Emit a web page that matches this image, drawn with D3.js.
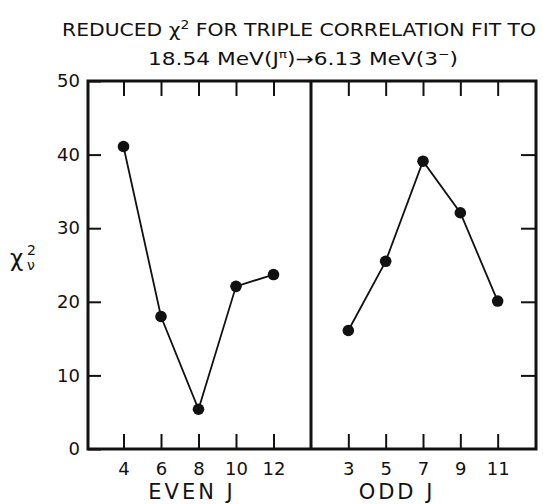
<!DOCTYPE html>
<html>
<head>
<meta charset="utf-8">
<script src="https://cdn.jsdelivr.net/npm/d3@7"></script>
<style>
  html, body { margin: 0; padding: 0; background: #fff; }
  svg { display: block; }
  text { font-family: "DejaVu Sans", sans-serif; fill: #111; }
</style>
</head>
<body>
<svg id="chart" width="543" height="504"></svg>
<script>
// Reduced chi-square vs. assumed spin J, split into even and odd J panels
const evenJ = [4, 6, 8, 10, 12];
const evenChi2 = [41.1, 18.0, 5.4, 22.1, 23.7];
const oddJ = [3, 5, 7, 9, 11];
const oddChi2 = [16.1, 25.5, 39.1, 32.1, 20.1];
const yTicks = [0, 10, 20, 30, 40, 50];
const panelLabels = ["EVEN J", "ODD J"];

const svg = d3.select("#chart");
const frameL = 88, frameR = 536, frameMid = 311, frameT = 81, frameB = 449;

const y = d3.scaleLinear().domain([0, 50]).range([frameB, frameT]);
const xEven = d3.scaleLinear().domain([2, 14]).range([86, frameMid]);
const xOdd = d3.scaleLinear().domain([1, 13]).range([frameMid, 535]);

// Title
svg.append("text")
  .attr("x", 299).attr("y", 36)
  .attr("text-anchor", "middle")
  .attr("font-size", 17.5)
  .attr("textLength", 474).attr("lengthAdjust", "spacingAndGlyphs")
  .html('REDUCED χ<tspan dy="-7" font-size="12">2</tspan><tspan dy="7"> FOR TRIPLE CORRELATION FIT TO</tspan>');

svg.append("text")
  .attr("x", 303).attr("y", 65)
  .attr("text-anchor", "middle")
  .attr("font-size", 17.5)
  .attr("textLength", 310).attr("lengthAdjust", "spacingAndGlyphs")
  .html('18.54 MeV(J<tspan dy="-7" font-size="11">π</tspan><tspan dy="7">)→6.13 MeV(3</tspan><tspan dy="-7" font-size="11">−</tspan><tspan dy="7">)</tspan>');

// Axes: ticks point inward, domain lines replaced by the frame
function styleAxis(g) {
  g.select(".domain").remove();
  g.selectAll(".tick line").attr("stroke", "#111").attr("stroke-width", 2);
  g.selectAll(".tick text").attr("font-size", 18).attr("fill", "#111")
    .attr("font-family", '"DejaVu Sans", sans-serif');
}

svg.append("g").attr("transform", `translate(0,${frameB})`)
  .call(d3.axisBottom(xEven).tickValues(evenJ).tickSize(-15).tickPadding(13))
  .call(styleAxis);
svg.append("g").attr("transform", `translate(0,${frameB})`)
  .call(d3.axisBottom(xOdd).tickValues(oddJ).tickSize(-15).tickPadding(13))
  .call(styleAxis);
svg.append("g").attr("transform", `translate(0,${frameT})`)
  .call(d3.axisTop(xEven).tickValues(evenJ).tickSize(-15).tickFormat(""))
  .call(styleAxis);
svg.append("g").attr("transform", `translate(0,${frameT})`)
  .call(d3.axisTop(xOdd).tickValues(oddJ).tickSize(-15).tickFormat(""))
  .call(styleAxis);
svg.append("g").attr("transform", `translate(${frameL},0)`)
  .call(d3.axisLeft(y).tickValues(yTicks).tickSize(-13).tickPadding(8))
  .call(styleAxis);
svg.append("g").attr("transform", `translate(${frameR},0)`)
  .call(d3.axisRight(y).tickValues(yTicks.slice(1, -1)).tickSize(-15).tickFormat(""))
  .call(styleAxis);

// Frame and panel divider
svg.append("rect")
  .attr("x", frameL).attr("y", frameT)
  .attr("width", frameR - frameL).attr("height", frameB - frameT)
  .attr("fill", "none").attr("stroke", "#111").attr("stroke-width", 3);
svg.append("line")
  .attr("x1", frameMid).attr("x2", frameMid).attr("y1", frameT).attr("y2", frameB)
  .attr("stroke", "#111").attr("stroke-width", 3);

// Y-axis label: chi-square with superscript 2 and subscript nu
const yl = svg.append("g").attr("transform", "translate(10,266)");
yl.append("text").attr("font-size", 23).text("χ");
yl.append("text").attr("x", 17).attr("y", -11).attr("font-size", 14).text("2");
yl.append("text").attr("x", 17).attr("y", 4).attr("font-size", 14).text("ν");

// Data lines and markers
const panels = [
  { J: evenJ, v: evenChi2, x: xEven },
  { J: oddJ, v: oddChi2, x: xOdd }
];
panels.forEach(p => {
  const pts = p.J.map((j, i) => [p.x(j), y(p.v[i])]);
  svg.append("path")
    .attr("d", d3.line()(pts))
    .attr("fill", "none").attr("stroke", "#111").attr("stroke-width", 1.8);
  svg.selectAll(null).data(pts).enter().append("circle")
    .attr("cx", d => d[0]).attr("cy", d => d[1]).attr("r", 5.8)
    .attr("fill", "#111");
});

// Panel labels
svg.append("text").attr("x", 192).attr("y", 499)
  .attr("text-anchor", "middle").attr("font-size", 21)
  .attr("letter-spacing", 3).text(panelLabels[0]);
svg.append("text").attr("x", 397).attr("y", 499)
  .attr("text-anchor", "middle").attr("font-size", 21)
  .attr("letter-spacing", 3).text(panelLabels[1]);
</script>
</body>
</html>
